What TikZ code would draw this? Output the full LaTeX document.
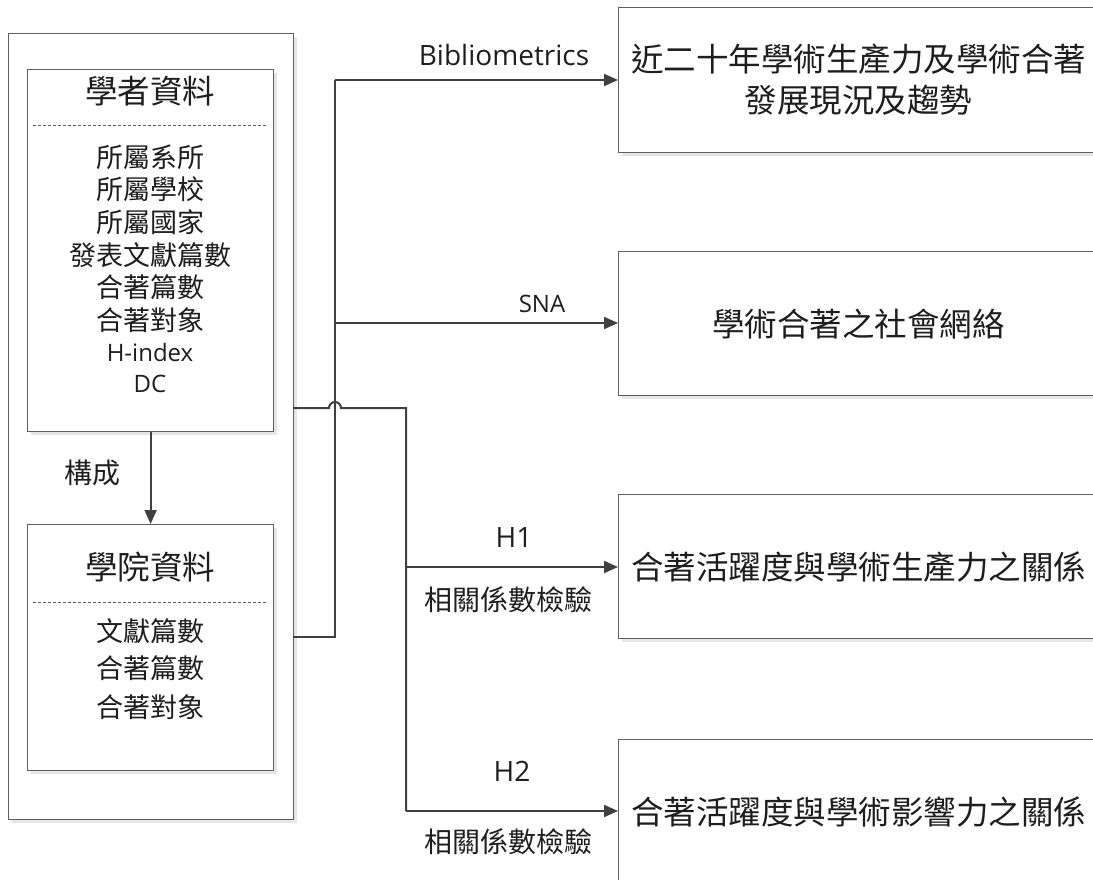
\documentclass[tikz,border=0pt]{standalone}
\usepackage{fontspec}
\setmainfont{Noto Sans CJK TC}
\newfontfamily\lat{Open Sans}
\usetikzlibrary{arrows.meta,shadows}
\definecolor{ln}{HTML}{404040}
\definecolor{bd}{HTML}{5F5F5F}
\definecolor{tx}{HTML}{1E1E1E}
\begin{document}
\begin{tikzpicture}[x=1pt,y=-1pt,
  box/.style={draw=bd,line width=1.2pt,fill=white,
    drop shadow={shadow xshift=3pt,shadow yshift=-3pt,fill=black!10,opacity=1},
    anchor=north west,inner sep=0pt},
  conn/.style={draw=ln,line width=2pt},
  arr/.style={conn,-{Triangle[length=14pt,width=12pt]}},
  big/.style={font=\fontsize{32.5}{41}\selectfont,text=tx},
  item/.style={font=\fontsize{27}{32}\selectfont,text=tx},
  lab/.style={font=\fontsize{28}{32}\selectfont,text=tx},
  latl/.style={font=\lat\fontsize{28}{32}\selectfont,text=tx},
  lats/.style={font=\lat\fontsize{24}{28}\selectfont,text=tx},
  sep/.style={draw=bd,line width=0.8pt,dash pattern=on 3pt off 2pt}]
\clip (0,0) rectangle (1093,879);
% left container
\node[box,minimum width=285pt,minimum height=786pt] (outer) at (8,33) {};
\node[box,minimum width=246pt,minimum height=362pt] (sch) at (27,69) {};
\node[box,minimum width=246pt,minimum height=246pt] (col) at (27,524) {};
\node[big] (schT) at (150,91) {學者資料};
\draw[sep] (33,125) -- (267,125);
\foreach \t/\y in {所屬系所/157,所屬學校/189,所屬國家/222,發表文獻篇數/255,合著篇數/287,合著對象/320}
  \node[item] (si\y) at (150,\y) {\t};
\node[lats] (hidx) at (150,352) {H-index};
\node[lats] (dc) at (150,384) {DC};
\node[big] (colT) at (150,567) {學院資料};
\draw[sep] (33,602) -- (267,602);
\foreach \t/\y in {文獻篇數/631,合著篇數/668,合著對象/707}
  \node[item] (ci\y) at (150,\y) {\t};
\draw[arr] (sch.south) -- (col.north);
\node[lab] (gc) at (92,473) {構成};
% right boxes
\node[box,big,align=center,minimum width=480pt,minimum height=145pt] (r1) at (618,7) {近二十年學術生產力及學術合著\\發展現況及趨勢};
\node[box,big,align=center,minimum width=480pt,minimum height=144pt] (r2) at (618,251) {學術合著之社會網絡};
\node[box,big,align=center,minimum width=480pt,minimum height=144pt] (r3) at (618,494) {合著活躍度與學術生產力之關係};
\node[box,big,align=center,minimum width=480pt,minimum height=145pt] (r4) at (618,739) {合著活躍度與學術影響力之關係};
% connector 1
\coordinate (p1) at (293,637);
\coordinate (b1) at (335,637);
\coordinate (j1) at (335,80);
\coordinate (j2) at (335,323);
\draw[conn] (p1) -- (b1) -- (j1);
\draw[arr] (j1) -- (j1 -| r1.west);
\draw[arr] (j2) -- (j2 -| r2.west);
% connector 2
\coordinate (p2) at (293,408);
\coordinate (h1) at (329,408);
\coordinate (k1) at (406,408);
\coordinate (k2) at (406,567);
\coordinate (k3) at (406,811);
\draw[conn] (p2) -- (h1) arc[start angle=180,end angle=0,radius=6pt] -- (k1) -- (k3);
\draw[arr] (k2) -- (k2 -| r3.west);
\draw[arr] (k3) -- (k3 -| r4.west);
% labels
\node[latl] (lb1) at (504,55) {Bibliometrics};
\node[lats] (lb2) at (542,304) {SNA};
\node[latl] (lb3) at (514,537) {H1};
\node[lab] (lb4) at (508,600) {相關係數檢驗};
\node[latl] (lb5) at (512,771) {H2};
\node[lab] (lb6) at (508,842) {相關係數檢驗};
\end{tikzpicture}
\end{document}
